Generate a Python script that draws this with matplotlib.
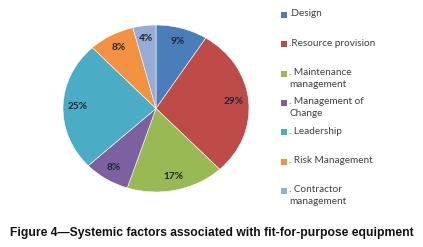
import matplotlib
matplotlib.use("Agg")
import matplotlib.pyplot as plt
from matplotlib.patches import Rectangle

labels = [".Design", ".Resource provision", ". Maintenance\nmanagement",
          ". Management of\nChange", ". Leadership", ". Risk Management",
          ". Contractor\nmanagement"]
values = [9, 29, 17, 8, 25, 8, 4]
colors = ["#4A7EBB", "#BE4B48", "#98B954", "#7D60A0", "#4BACC6", "#F29240", "#95ACD6"]
caption = "Figure 4\u2014Systemic factors associated with fit-for-purpose equipment"

fig = plt.figure(figsize=(4.23, 2.47), dpi=100)
fig.patch.set_facecolor("white")

ax = fig.add_axes([63/423, 1-192/247, 186/423, 167/247])
wedges, texts = ax.pie(values, colors=colors, startangle=90, counterclock=False,
                       labels=[f"{v}%" for v in values], labeldistance=0.84,
                       wedgeprops=dict(edgecolor="white", linewidth=0.4),
                       textprops=dict(fontsize=7.3, color="#1E2433", family="Lato",
                                      weight="bold"))
for t in texts:
    t.set_ha("center")
    t.set_va("center")
ax.set_aspect("auto")
ax.set_xlim(-1, 1)
ax.set_ylim(-1, 1)
ax.axis("off")

# legend
y0 = 15
dy = 29.3
for i, (lab, col) in enumerate(zip(labels, colors)):
    y = y0 + i * dy
    fig.patches.append(Rectangle((281/423, 1-(y+3)/247), 6/423, 6/247,
                                 transform=fig.transFigure, facecolor=col,
                                 edgecolor="none"))
    fig.text(289/423, 1-(y-5.5)/247, lab, fontsize=7.2, family="Lato",
             color="#404040", ha="left", va="top", linespacing=1.35)

fig.text(0.5, 1-233/247, caption, fontsize=8.75, family="Liberation Sans",
         weight="bold", ha="center", va="center", color="#111111")

fig.savefig("out.png", dpi=100)
